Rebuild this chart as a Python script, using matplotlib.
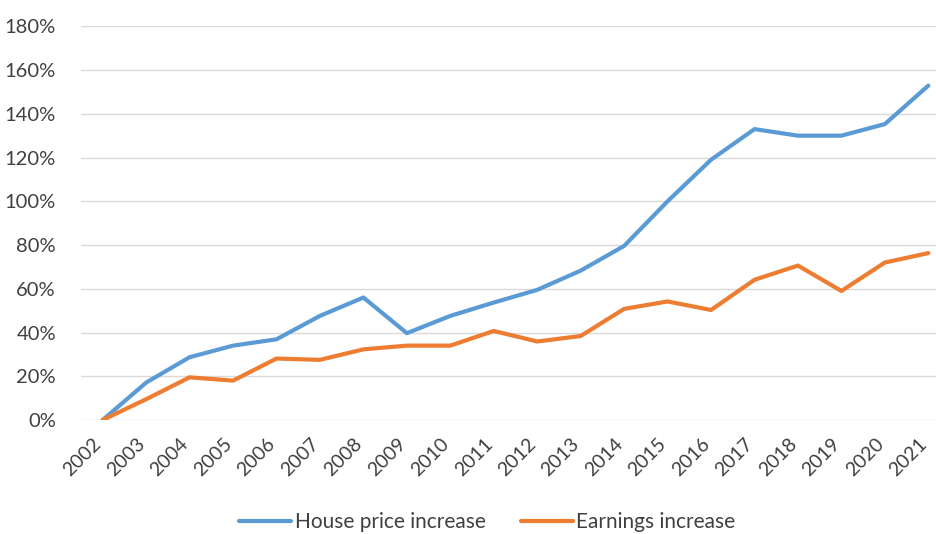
import matplotlib.pyplot as plt
import matplotlib.transforms as mtransforms
from matplotlib.ticker import PercentFormatter

# データ (2002年を基準とした上昇率)
years = [str(y) for y in range(2002, 2022)]
house_price = [0.0, 17.1, 28.7, 34.0, 36.9, 47.6, 56.0, 39.7, 47.6, 53.7,
               59.5, 68.3, 79.6, 100.0, 119.0, 133.0, 130.0, 130.0, 135.3, 152.9]
earnings = [0.0, 9.5, 19.5, 18.0, 28.1, 27.5, 32.3, 34.0, 34.0, 40.7,
            35.9, 38.4, 50.8, 54.2, 50.3, 64.1, 70.6, 59.0, 72.0, 76.3]

plt.rcParams['font.family'] = ['Lato', 'DejaVu Sans']

fig = plt.figure(figsize=(9.37, 5.34), dpi=100)
ax = fig.add_axes([0.0864, 0.2135, 0.9136, 0.7372])

x = range(len(years))
ax.plot(x, house_price, color='#5B9BD5', linewidth=3, label='House price increase',
        solid_joinstyle='round', solid_capstyle='round')
ax.plot(x, earnings, color='#ED7D31', linewidth=3, label='Earnings increase',
        solid_joinstyle='round', solid_capstyle='round')

ax.set_ylim(0, 180)
ax.set_xlim(-0.5, 19.2)
ax.set_yticks(range(0, 181, 20))
ax.yaxis.set_major_formatter(PercentFormatter(decimals=0))
ax.set_xticks(list(x))
ax.set_xticklabels(years, rotation=45, ha='right', va='center', rotation_mode='anchor')

ax.grid(axis='y', color='#D9D9D9', linewidth=1)
ax.set_axisbelow(True)
for s in ax.spines.values():
    s.set_visible(False)
ax.tick_params(axis='both', length=0, colors='#404040')
ax.tick_params(axis='y', pad=18, labelsize=14.5)
ax.tick_params(axis='x', pad=15, labelsize=14)

# 右端の2021が切れないよう少し左へずらす (tick_paramsの後に設定)
offset = mtransforms.ScaledTranslation(-4 / 100, 0, fig.dpi_scale_trans)
for tick in ax.xaxis.get_major_ticks():
    tick.label1.set_transform(tick.label1.get_transform() + offset)

fig.legend(loc='center', bbox_to_anchor=(0.52, 1 - 522 / 534), ncol=2, frameon=False,
           fontsize=15, handlelength=2.5, handletextpad=0.15, columnspacing=1.7,
           labelcolor='#404040', borderpad=0)

fig.savefig('out.png', dpi=100)
